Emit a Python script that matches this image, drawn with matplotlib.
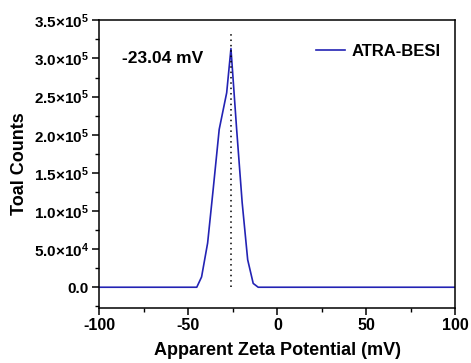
import matplotlib.pyplot as plt
from matplotlib.ticker import MultipleLocator, FixedLocator

plt.rcParams['font.family'] = ['Liberation Sans', 'DejaVu Sans']
plt.rcParams['font.weight'] = 'bold'
plt.rcParams['mathtext.default'] = 'regular'
plt.rcParams['axes.unicode_minus'] = False

# zeta potential distribution
zeta = [-100, -48.0, -45.3, -42.6, -39.2, -36.1, -32.7, -28.5, -26.1,
        -22.9, -19.8, -16.7, -13.6, -10.8, 100]
counts = [0, 0, 0, 13500, 58000, 128000, 207000, 255000, 313000,
          207000, 111000, 36000, 5000, 0, 0]
peak_x = -26.1
peak_label = '-23.04 mV'
series_name = 'ATRA-BESI'

y_ticks = [0, 5e4, 1e5, 1.5e5, 2e5, 2.5e5, 3e5, 3.5e5]
y_labels = ['0.0', '5.0×10$^{4}$', '1.0×10$^{5}$', '1.5×10$^{5}$', '2.0×10$^{5}$',
            '2.5×10$^{5}$', '3.0×10$^{5}$', '3.5×10$^{5}$']

fig = plt.figure(figsize=(4.71, 3.63), dpi=100)
ax = fig.add_axes([0.211, 0.152, 0.756, 0.792])

ax.plot(zeta, counts, color='#2323b4', lw=1.2, label=series_name)
ax.plot([peak_x, peak_x], [0, 3.35e5], color='black', lw=1.1, ls=(0, (1, 2.5)))
ax.text(-87.5, 3.0e5, peak_label, fontsize=12.5, fontweight='bold', va='center')

ax.set_xlim(-100, 100)
ax.set_ylim(-2.7e4, 3.5e5)
ax.xaxis.set_major_locator(MultipleLocator(50))
ax.xaxis.set_minor_locator(MultipleLocator(25))
ax.yaxis.set_major_locator(FixedLocator(y_ticks))
ax.set_yticklabels(y_labels)
ax.yaxis.set_minor_locator(MultipleLocator(2.5e4))

ax.tick_params(which='major', direction='out', length=5, width=1.1, pad=2.5)
ax.tick_params(axis='x', labelsize=11.5)
ax.tick_params(axis='y', labelsize=11)
ax.tick_params(which='minor', direction='out', length=3, width=1.0)
for s in ax.spines.values():
    s.set_linewidth(1.1)

ax.set_xlabel('Apparent Zeta Potential (mV)', fontsize=13, fontweight='bold', labelpad=6)
ax.set_ylabel('Toal Counts', fontsize=13, fontweight='bold', labelpad=4)

leg = ax.legend(loc='upper right', frameon=False, fontsize=12, handlelength=1.7,
                handletextpad=0.4, bbox_to_anchor=(1.0, 0.97))

fig.savefig('out.png', dpi=100)
